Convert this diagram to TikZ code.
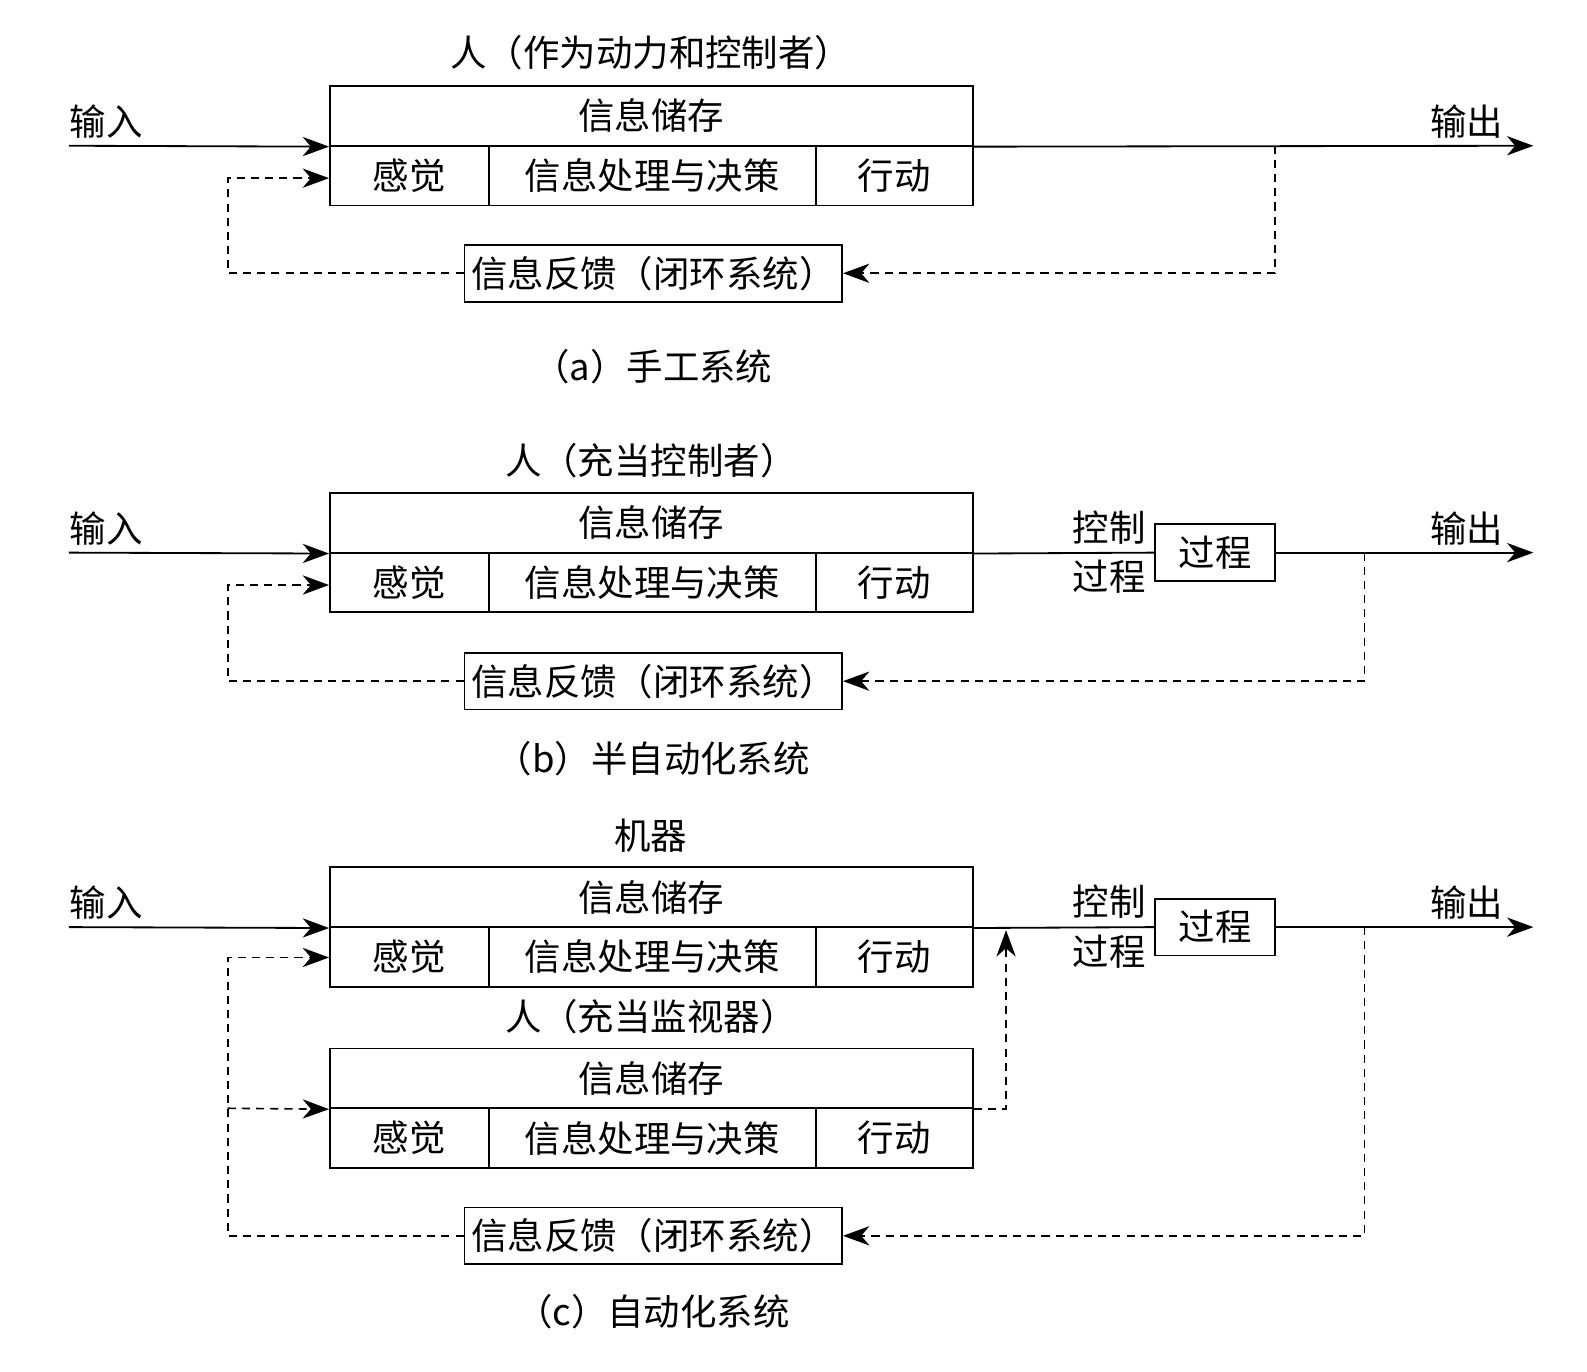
\documentclass[tikz,border=0pt]{standalone}
\usepackage{fontspec}
\setmainfont{Noto Sans CJK SC}
\usetikzlibrary{arrows.meta}
\newcommand\mkinfobox[2]{%
  \node[cell, minimum width=317.5pt] (#1top) at (643.5,#2+29.5) {信息储存};
  \node[cell, minimum width=78.5pt] (#1sense) at (404.5,#2+88.5) {感觉};
  \node[cell, minimum width=161.5pt] (#1proc) at (644.5,#2+88.5) {信息处理与决策};
  \node[cell, minimum width=77.5pt] (#1act) at (883.5,#2+88.5) {行动};
}
\begin{document}
\begin{tikzpicture}[x=0.5pt,y=-0.5pt,
  every node/.style={font=\fontsize{18pt}{20pt}\selectfont, inner sep=0pt},
  cell/.style={draw, line width=0.9pt, minimum height=29.5pt},
  fbbox/.style={draw, line width=0.9pt, minimum width=186.5pt, minimum height=28pt},
  procbox/.style={draw, line width=0.9pt, minimum width=59.5pt, minimum height=28pt},
  plainln/.style={line width=0.9pt},
  solidarr/.style={line width=0.9pt, -{Stealth[length=13pt,width=9.5pt,inset=4pt]}},
  dasharr/.style={line width=0.8pt, dash pattern=on 4pt off 3pt, -{Stealth[length=13pt,width=9.5pt,inset=4pt]}}]
\useasboundingbox (0,0) rectangle (1568,1355);

% ---------- panel (a)
\node (atitle) at (643,52) {人（作为动力和控制者）};
\mkinfobox{a}{85}
\node[fbbox] (afb) at (645.5,270) {信息反馈（闭环系统）};
\node (ainlbl) at (105,120) {输入};
\node (aoutlbl) at (1449,120) {输出};
\node (acap) at (645,362) {（a）手工系统};
\coordinate (ainp) at (68,144);
\coordinate (aoutp) at (1515,144);
\coordinate (atap) at (1260,144);
\coordinate (aleft) at (225,176);
\draw[solidarr] (ainp) -- (atop.south west);
\draw[solidarr] (atop.south east) -- (aoutp);
\draw[dasharr] (atap) |- (afb.east);
\draw[dasharr] (afb.west) -| (aleft) -- (aleft -| atop.west);

% ---------- panel (b)
\node (btitle) at (643,455) {人（充当控制者）};
\mkinfobox{b}{487}
\node[fbbox] (bfb) at (645.5,673) {信息反馈（闭环系统）};
\node[procbox] (bpr) at (1200.5,546) {过程};
\node (bctl) at (1096,521) {控制};
\node (bcp) at (1096,570) {过程};
\node (binlbl) at (105,522) {输入};
\node (boutlbl) at (1449,522) {输出};
\node (bcap) at (645,750) {（b）半自动化系统};
\coordinate (binp) at (68,546);
\coordinate (boutp) at (1515,546);
\coordinate (btap) at (1348,546);
\coordinate (bleft) at (225,578);
\draw[solidarr] (binp) -- (btop.south west);
\draw[plainln] (btop.south east) -- (bpr.west);
\draw[solidarr] (bpr.east) -- (boutp);
\draw[dasharr] (btap) |- (bfb.east);
\draw[dasharr] (bfb.west) -| (bleft) -- (bleft -| btop.west);

% ---------- panel (c)
\node (ctitle) at (643,826) {机器};
\mkinfobox{m}{857}
\node (chtitle) at (643,1004) {人（充当监视器）};
\mkinfobox{h}{1036}
\node[fbbox] (cfb) at (645.5,1221) {信息反馈（闭环系统）};
\node[procbox] (cpr) at (1200.5,916) {过程};
\node (cctl) at (1096,891) {控制};
\node (ccp) at (1096,940) {过程};
\node (cinlbl) at (105,892) {输入};
\node (coutlbl) at (1449,892) {输出};
\node (ccap) at (645,1296) {（c）自动化系统};
\coordinate (cinp) at (68,916);
\coordinate (coutp) at (1515,916);
\coordinate (ctap) at (1348,916);
\coordinate (cleft) at (225,946);
\coordinate (cbranch) at (225,1095);
\coordinate (cup) at (994,919);
\draw[solidarr] (cinp) -- (mtop.south west);
\draw[plainln] (mtop.south east) -- (cpr.west);
\draw[solidarr] (cpr.east) -- (coutp);
\draw[dasharr] (ctap) |- (cfb.east);
\draw[dasharr] (cfb.west) -| (cleft) -- (cleft -| mtop.west);
\draw[dasharr] (cbranch) -- (htop.south west);
\draw[dasharr] (htop.south east) -| (cup);
\end{tikzpicture}
\end{document}
